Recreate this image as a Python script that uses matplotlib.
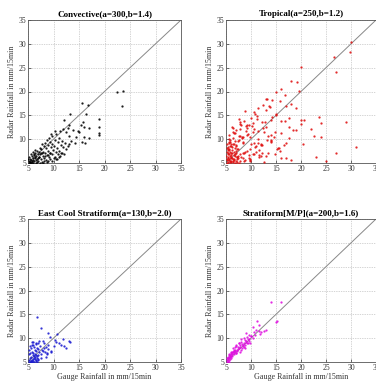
import matplotlib
matplotlib.use("Agg")
import matplotlib.pyplot as plt

# ---------------- data ----------------
titles = ["Convective(a=300,b=1.4)", "Tropical(a=250,b=1.2)",
          "East Cool Stratiform(a=130,b=2.0)", "Stratiform[M/P](a=200,b=1.6)"]
colors = ["#000000", "#e01010", "#1a1ad0", "#e010e0"]
ticks = [5, 10, 15, 20, 25, 30, 35]
xlabel = "Gauge Rainfall in mm/15min"
ylabel = "Radar Rainfall in mm/15min"

conv_x = [5.1, 5.3, 5.5, 5.2, 5.6, 5.8, 6.0, 6.2, 5.4, 5.9, 6.3, 6.5, 6.8, 7.0, 6.1, 6.6, 6.9, 7.2, 7.5, 7.8,
          5.7, 6.4, 7.1, 7.4, 7.9, 8.2, 8.5, 8.8, 6.7, 7.6, 8.0, 8.4, 8.7, 9.1, 9.4, 9.7, 7.3, 8.1, 8.6, 9.0,
          9.3, 9.8, 10.2, 10.6, 7.8, 8.4, 8.9, 9.5, 9.9, 10.4, 10.8, 11.3, 8.7, 9.3, 9.7, 10.1, 10.7, 11.1, 11.6, 12.0,
          9.1, 9.8, 10.3, 10.9, 11.4, 11.9, 12.4, 9.6, 10.5, 11.0, 11.7, 12.3, 12.8, 10.2, 11.2, 11.8, 12.5, 13.1, 13.5, 12.0,
          13.0, 13.2, 12.8, 13.8, 14.2, 14.5, 13.0, 14.8, 15.0, 15.3, 15.8, 16.0, 17.0, 16.0, 17.0, 15.5, 16.2, 15.5, 16.8, 16.3,
          19.0, 19.0, 19.0, 19.0, 22.5, 23.7, 23.4, 5.0, 5.2, 5.5, 6.0, 6.3, 5.8, 6.6, 7.3, 8.0, 6.4, 7.0, 7.7, 8.3,
          9.0, 10.0, 11.0, 5.4, 5.9, 6.2, 6.7, 7.2, 7.6, 8.1, 8.9, 9.4, 10.4, 11.5]
conv_y = [5.0, 5.2, 5.1, 5.5, 5.6, 5.3, 5.0, 5.4, 5.9, 6.1, 6.0, 5.6, 5.2, 5.5, 6.6, 6.4, 6.9, 6.2, 5.8, 5.3,
          6.4, 7.0, 7.4, 6.8, 6.5, 6.0, 5.6, 5.2, 7.6, 7.9, 7.3, 7.0, 6.6, 6.2, 5.8, 5.4, 8.2, 8.5, 8.1, 7.6,
          7.1, 6.8, 6.3, 5.9, 8.9, 9.2, 8.7, 8.3, 7.8, 7.4, 6.9, 6.5, 9.8, 9.5, 9.0, 8.6, 8.1, 7.6, 7.2, 6.8,
          10.3, 10.6, 9.9, 9.4, 8.8, 8.3, 7.9, 11.1, 11.0, 10.3, 9.7, 9.1, 8.5, 11.7, 11.8, 12.2, 11.5, 10.6, 9.6, 14.0,
          13.0, 15.2, 12.4, 12.0, 9.2, 10.5, 9.0, 11.8, 11.5, 13.0, 13.5, 12.5, 12.3, 10.5, 10.2, 9.5, 9.3, 17.6, 17.2, 15.2,
          14.2, 12.5, 11.3, 10.8, 20.0, 20.2, 17.0, 5.8, 6.3, 6.9, 7.3, 7.8, 5.5, 5.1, 5.0, 5.1, 6.3, 6.0, 7.1, 6.4,
          5.5, 6.0, 6.2, 5.3, 5.7, 6.8, 5.9, 6.2, 7.0, 5.5, 6.6, 7.2, 5.9, 7.0]

trop_x = [5.1, 5.2, 5.3, 5.4, 5.5, 5.6, 5.7, 5.8, 5.9, 6.0, 5.1, 5.3, 5.5, 5.7, 5.9, 6.1, 6.3, 6.5, 6.7, 6.9,
          5.2, 5.4, 5.6, 5.8, 6.0, 6.2, 6.4, 6.6, 6.8, 7.0, 5.0, 5.3, 5.6, 5.9, 6.2, 6.5, 6.8, 7.1, 7.4, 7.7,
          5.1, 5.4, 5.7, 6.0, 6.3, 6.6, 6.9, 7.2, 7.5, 7.8, 5.2, 5.6, 6.0, 6.4, 6.8, 7.2, 7.6, 8.0, 8.4, 8.8,
          5.3, 5.8, 6.3, 6.8, 7.3, 7.8, 8.3, 8.8, 9.3, 9.8, 5.5, 6.1, 6.7, 7.3, 7.9, 8.5, 9.1, 9.7, 10.3, 10.9,
          6.0, 6.6, 7.2, 7.8, 8.4, 9.0, 9.6, 10.2, 10.8, 11.4, 6.4, 7.1, 7.8, 8.5, 9.2, 9.9, 10.6, 11.3, 12.0, 12.7,
          7.0, 7.7, 8.4, 9.1, 9.8, 10.5, 11.2, 11.9, 12.6, 13.3, 7.5, 8.3, 9.1, 9.9, 10.7, 11.5, 12.3, 13.1, 13.9, 14.7,
          8.2, 9.0, 9.8, 10.6, 11.4, 12.2, 13.0, 13.8, 14.6, 15.4, 8.8, 9.7, 10.6, 11.5, 12.4, 13.3, 14.2, 15.1, 16.0, 16.9,
          9.5, 10.4, 11.3, 12.2, 13.1, 14.0, 14.9, 15.8, 16.7, 17.6, 10.3, 11.2, 12.1, 13.0, 13.9, 14.8, 15.7, 16.6, 17.5, 18.4,
          11.0, 12.0, 13.0, 14.0, 15.0, 16.0, 17.0, 18.0, 19.0, 20.0, 13.0, 13.5, 14.2, 15.0, 16.0, 16.8, 18.0, 19.0, 20.0, 19.2,
          17.0, 19.5, 20.0, 20.5, 22.0, 23.5, 24.0, 23.0, 25.0, 26.5, 27.0, 29.0, 30.0, 29.8, 31.0, 27.0, 24.0, 22.5, 20.3, 18.0,
          16.0, 17.5, 15.5, 14.0, 12.5, 11.5, 9.5, 8.5, 7.5, 6.5, 5.5, 6.2, 7.0, 5.8, 6.4, 5.3, 5.6, 6.9, 7.4, 8.1]
trop_y = [5.1, 5.6, 6.2, 5.3, 6.8, 5.9, 5.2, 6.5, 7.1, 5.5, 7.4, 6.0, 7.9, 5.4, 6.3, 7.2, 5.8, 6.6, 5.1, 7.6,
          8.2, 6.9, 5.7, 8.6, 6.1, 7.8, 5.3, 8.9, 6.4, 7.0, 6.4, 8.0, 9.3, 5.2, 8.4, 5.6, 9.6, 6.3, 8.0, 5.4,
          9.0, 7.1, 9.9, 6.7, 10.2, 7.4, 8.7, 5.9, 10.6, 6.8, 5.9, 10.8, 8.9, 5.5, 11.3, 7.9, 9.8, 6.2, 10.4, 5.6,
          7.7, 9.4, 11.6, 8.2, 6.5, 12.1, 9.1, 7.4, 11.0, 5.8, 10.1, 12.5, 6.8, 9.7, 12.9, 7.0, 10.9, 5.4, 13.3, 8.6,
          8.5, 11.2, 6.2, 13.6, 9.5, 11.8, 6.6, 12.7, 8.4, 10.1, 12.3, 5.3, 10.6, 13.9, 7.6, 14.5, 9.2, 11.7, 6.4, 13.5,
          11.9, 13.2, 7.2, 12.4, 10.4, 6.9, 14.8, 8.8, 11.6, 7.1, 14.2, 6.0, 13.0, 9.0, 15.3, 7.7, 12.3, 9.9, 14.1, 6.8,
          10.5, 12.8, 5.7, 15.6, 9.3, 13.7, 6.5, 16.8, 10.4, 8.2, 15.9, 8.0, 12.1, 6.3, 17.2, 10.7, 14.6, 7.9, 11.3, 6.1,
          13.0, 6.9, 16.5, 8.7, 18.5, 9.4, 15.0, 7.5, 13.9, 10.2, 11.4, 14.3, 7.2, 16.2, 9.6, 11.5, 18.0, 8.8, 14.4, 12.0,
          7.4, 9.0, 12.5, 10.9, 15.2, 13.8, 9.1, 17.3, 11.9, 14.0, 18.5, 17.0, 18.3, 20.0, 20.5, 19.2, 22.3, 16.5, 13.2, 22.0,
          17.0, 20.2, 25.2, 14.0, 12.2, 14.7, 13.3, 6.3, 5.5, 27.2, 24.0, 13.5, 30.3, 28.3, 8.3, 7.0, 10.5, 10.7, 9.0, 5.6,
          6.0, 12.5, 8.2, 9.8, 5.2, 6.6, 6.0, 5.5, 5.1, 5.8, 9.4, 6.0, 8.5, 7.3, 9.0, 8.3, 7.7, 5.4, 6.1, 10.2]

ecs_x = [5.1, 5.2, 5.3, 5.4, 5.5, 5.6, 5.7, 5.8, 5.9, 6.0, 6.1, 6.2, 6.3, 6.4, 6.5, 6.6, 6.7, 6.8, 6.9, 7.0,
         5.2, 5.4, 5.6, 5.8, 6.0, 6.2, 6.4, 6.6, 6.8, 7.0, 5.1, 5.5, 5.9, 6.3, 6.7, 7.1, 7.5, 7.9, 8.3, 8.7,
         5.3, 5.7, 6.1, 6.5, 6.9, 7.3, 7.7, 8.1, 8.5, 9.0, 6.0, 6.5, 7.0, 7.5, 8.0, 8.5, 9.0, 9.5, 10.0, 10.5,
         6.8, 7.5, 9.0, 10.6, 11.0, 11.5, 12.0, 13.0, 13.2, 12.5, 9.5, 8.8, 8.2, 6.5, 6.0, 5.8, 7.2, 11.8, 10.2, 9.3]
ecs_y = [5.0, 5.5, 5.1, 5.8, 5.2, 6.1, 5.4, 5.0, 5.7, 5.3, 6.3, 5.1, 5.6, 6.0, 5.2, 5.5, 5.9, 5.1, 5.4, 5.7,
         6.6, 6.9, 5.3, 7.1, 6.4, 5.9, 6.7, 7.3, 6.2, 6.5, 7.5, 7.9, 6.8, 7.6, 8.0, 7.0, 6.6, 7.4, 7.1, 6.8,
         8.4, 8.6, 8.1, 8.8, 7.8, 8.3, 7.6, 8.9, 8.2, 7.7, 9.2, 6.4, 9.0, 5.9, 9.5, 6.1, 8.6, 7.3, 8.4, 9.2,
         14.5, 12.1, 11.0, 10.8, 9.0, 8.6, 8.3, 9.5, 9.1, 8.0, 7.0, 6.6, 7.9, 9.0, 8.6, 9.2, 9.5, 9.8, 9.6, 10.2]

strat_x = [5.1, 5.2, 5.3, 5.4, 5.5, 5.6, 5.7, 5.8, 5.9, 6.0, 5.2, 5.4, 5.6, 5.8, 6.0, 6.2, 6.4, 6.6, 6.8, 7.0,
           5.5, 5.9, 6.3, 6.7, 7.1, 7.5, 7.9, 8.3, 8.7, 9.1, 5.8, 6.2, 6.6, 7.0, 7.4, 7.8, 8.2, 8.6, 9.0, 9.4,
           6.1, 6.5, 6.9, 7.3, 7.7, 8.1, 8.5, 8.9, 9.3, 9.7, 6.4, 6.8, 7.2, 7.6, 8.0, 8.4, 8.8, 9.2, 9.6, 10.0,
           7.0, 7.5, 8.0, 8.5, 9.0, 9.5, 10.0, 10.5, 11.0, 11.5, 10.3, 10.8, 11.2, 11.6, 12.0, 12.5, 13.0, 14.0, 15.0, 15.2,
           16.0, 8.8, 9.6, 10.4, 11.8, 7.7, 6.6, 5.3, 5.6, 6.0]
strat_y = [5.0, 5.4, 5.2, 5.7, 5.5, 5.1, 6.0, 5.6, 6.2, 5.8, 5.9, 6.1, 6.5, 6.4, 6.8, 6.3, 7.0, 6.6, 7.3, 6.9,
           6.7, 7.2, 7.1, 7.6, 7.4, 8.0, 7.6, 8.3, 8.0, 8.9, 6.3, 6.7, 7.6, 6.8, 8.1, 7.2, 8.8, 8.2, 9.5, 8.9,
           7.0, 7.4, 8.3, 7.8, 8.6, 8.0, 9.0, 9.3, 9.9, 9.0, 7.9, 8.1, 7.5, 8.9, 9.2, 8.5, 9.7, 10.2, 9.4, 10.5,
           8.5, 9.0, 9.8, 10.1, 11.0, 10.6, 10.4, 11.2, 11.8, 11.5, 12.4, 10.7, 13.5, 12.8, 11.2, 11.5, 11.8, 17.6, 13.4, 13.7,
           17.5, 8.6, 9.9, 10.0, 10.9, 8.1, 7.2, 5.8, 6.1, 6.7]

series_x = [conv_x, trop_x, ecs_x, strat_x]
series_y = [conv_y, trop_y, ecs_y, strat_y]

# ---------------- figure ----------------
W, H = 376, 381
fig = plt.figure(figsize=(W / 100, H / 100), dpi=100)
plt.rcParams['font.family'] = ['Liberation Serif', 'DejaVu Serif']

# pixel boxes: left, top, right, bottom
boxes = [(28, 20, 181, 163), (226, 20, 376, 163), (28, 219, 181, 362), (226, 219, 376, 362)]

for i, (l, t, r, b) in enumerate(boxes):
    ax = fig.add_axes([l / W, 1 - b / H, (r - l) / W, (b - t) / H])
    ax.set_xlim(5, 35)
    ax.set_ylim(5, 35)
    ax.set_xticks(ticks)
    ax.set_yticks(ticks)
    ax.tick_params(direction='in', length=2, width=0.5, labelsize=5.5, pad=1.5, colors='#333333')
    ax.grid(True, linestyle=(0, (1, 1.5)), color='#aaaaaa', linewidth=0.5)
    for s in ax.spines.values():
        s.set_linewidth(0.6)
        s.set_color('#555555')
    ax.plot([5, 35], [5, 35], color='#888888', linewidth=0.7, zorder=2)
    ax.plot(series_x[i], series_y[i], linestyle='none', marker='.', markersize=1.3,
            color=colors[i], alpha=0.85, zorder=3)
    ax.set_title(titles[i], fontsize=6.5, fontweight='bold', pad=3)
    ax.set_ylabel(ylabel, fontsize=5.8, labelpad=2, color='#333333')
    if i >= 2:
        ax.set_xlabel(xlabel, fontsize=5.8, labelpad=1, color='#333333')

fig.savefig("out.png", dpi=100)
